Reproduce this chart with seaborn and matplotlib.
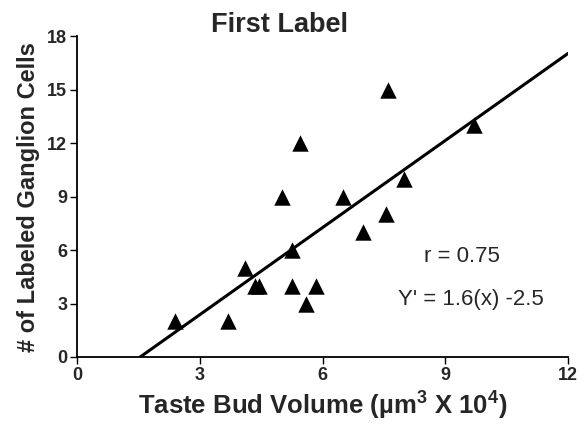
import numpy as np
import pandas as pd
import matplotlib.pyplot as plt
import seaborn as sns

# Data
taste_bud_volume = [2.4, 3.7, 4.1, 4.35, 4.45, 5.0, 5.25, 5.25, 5.45, 5.6, 5.85, 6.5, 7.0, 7.55, 7.6, 8.0, 9.7]
ganglion_cells = [2, 2, 5, 4, 4, 9, 6, 4, 12, 3, 4, 9, 7, 8, 15, 10, 13]
x_ticks = [0, 3, 6, 9, 12]
y_ticks = [0, 3, 6, 9, 12, 15, 18]
fit_slope = 1.63
fit_intercept = -2.52
fit_x_end = 12

sns.set_theme(style="white")
plt.rcParams['font.family'] = ['Liberation Sans', 'DejaVu Sans']
plt.rcParams['mathtext.fontset'] = 'custom'
plt.rcParams['mathtext.rm'] = 'Liberation Sans:bold'
plt.rcParams['mathtext.bf'] = 'Liberation Sans:bold'

df = pd.DataFrame({'volume': taste_bud_volume, 'cells': ganglion_cells})

fig = plt.figure(figsize=(5.78, 4.26), dpi=100)
ax = fig.add_axes([0.133, 0.162, 0.85, 0.753])

# regression line, starting where it crosses zero
x0 = -fit_intercept / fit_slope
line_x = np.array([x0, fit_x_end])
ax.plot(line_x, fit_slope * line_x + fit_intercept, color='black', linewidth=2.2, zorder=2)

sns.scatterplot(data=df, x='volume', y='cells', marker='^', s=140, color='black',
                edgecolor='black', linewidth=0, ax=ax, zorder=3)

ax.set_xlim(0, 12)
ax.set_ylim(0, 18)
ax.set_xticks(x_ticks)
ax.set_yticks(y_ticks)
ax.set_xticklabels([str(t) for t in x_ticks], fontweight='bold', fontsize=13)
ax.set_yticklabels([str(t) for t in y_ticks], fontweight='bold', fontsize=13)
ax.tick_params(axis='both', direction='out', length=5, width=1, color='black',
               bottom=True, left=True, pad=2)

sns.despine(ax=ax)
for side in ['left', 'bottom']:
    ax.spines[side].set_color('black')
    ax.spines[side].set_linewidth(1.3)

ax.set_xlabel(r'Taste Bud Volume (µm$^{3}$ X 10$^{4}$)', fontsize=18.5, fontweight='bold', labelpad=3)
ax.set_ylabel('# of Labeled Ganglion Cells', fontsize=17, fontweight='bold', labelpad=5)

fig.text(0.484, 1 - 32 / 426, 'First Label', ha='center', va='baseline', fontsize=19.5, fontweight='bold')

fig.text(424 / 578, 1 - 262 / 426, 'r = 0.75', ha='left', va='baseline', fontsize=16)
fig.text(398 / 578, 1 - 305 / 426, "Y' = 1.6(x) -2.5", ha='left', va='baseline', fontsize=16)

fig.savefig('out.png', dpi=100)
